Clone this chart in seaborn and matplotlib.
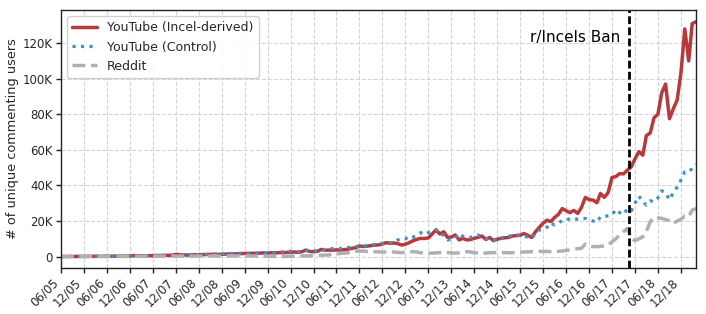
import numpy as np
import pandas as pd

import matplotlib
matplotlib.use("Agg")
import matplotlib.pyplot as plt
import matplotlib.ticker as mticker
import seaborn as sns

sns.set_theme(style="whitegrid")
plt.rcParams["font.family"] = ["DejaVu Sans"]
plt.rcParams["grid.linestyle"] = "--"
plt.rcParams["grid.color"] = "#d4d4d4"
plt.rcParams["grid.linewidth"] = 0.8
plt.rcParams["axes.edgecolor"] = "#222222"

# -- monthly unique commenting users, 06/2005 .. 04/2019 -- #
months = pd.date_range("2005-06-01", periods=167, freq="MS")

yt_incel = [
    80, 100, 110, 120, 130, 150,
    160, 170, 180, 200, 210, 220,
    230, 250, 260, 280, 300, 320,
    350, 600, 500, 450, 480, 520,
    550, 600, 650, 700, 720, 800,
    1300, 1100, 950, 900, 1000, 1050,
    1100, 1200, 1150, 1250, 1300, 1250,
    1350, 1400, 1500, 1450, 1600, 1700,
    1800, 1750, 1900, 1850, 2000, 2100,
    2000, 2200, 2100, 2300, 2200, 2400,
    2500, 2600, 2400, 2800, 3700, 2900,
    2800, 3000, 4100, 3600, 3700, 3600,
    3800, 3700, 3900, 4200, 4700, 5000,
    6000, 5700, 5900, 6200, 6500, 6600,
    7100, 7900, 7500, 7700, 7300, 6500,
    7000, 7900, 9000, 9700, 10300, 10200,
    10500, 12700, 15000, 12700, 14000, 10800,
    11000, 12200, 9400, 10300, 9400, 9600,
    10300, 10800, 11600, 9700, 10800, 9000,
    9800, 10300, 10600, 10800, 11600, 11800,
    12000, 13000, 12000, 10800, 14000, 16500,
    18800, 20500, 19700, 22000, 23800, 27000,
    25800, 24700, 26000, 24300, 27700, 33300,
    32000, 31800, 30300, 35500, 33300, 36000,
    44500, 45000, 46700, 46500, 48600, 50500,
    55000, 59000, 57000, 68000, 69500, 78000,
    80000, 92000, 97000, 77500, 83000, 88000,
    103000, 128000, 110000, 131000, 132000,
]

yt_control = [
    100, 120, 130, 140, 150, 160,
    170, 180, 200, 210, 220, 230,
    250, 260, 280, 300, 320, 340,
    380, 450, 500, 480, 520, 560,
    600, 650, 700, 750, 800, 850,
    1200, 1000, 950, 1000, 1050, 1100,
    1200, 1300, 1250, 1350, 1500, 1400,
    1600, 1500, 1700, 1800, 1700, 1900,
    2000, 1900, 2100, 2000, 2200, 2300,
    2200, 2400, 2300, 2500, 2700, 3700,
    2900, 2700, 2800, 3000, 3500, 3000,
    3200, 3400, 3600, 3500, 3900, 4600,
    4700, 4500, 4800, 5200, 5000, 5600,
    6000, 5800, 6200, 6500, 6800, 7200,
    7500, 7200, 7800, 8000, 9400, 10300,
    10000, 11600, 11000, 12000, 13500, 12500,
    13500, 14000, 15000, 14600, 11600, 9400,
    9800, 10300, 13000, 11500, 10800, 10800,
    11500, 12200, 11000, 10300, 9700, 9000,
    10800, 10500, 10300, 11200, 12200, 12000,
    12200, 11600, 11000, 10300, 13000, 15000,
    15300, 16500, 19000, 17800, 19000, 20200,
    20200, 21500, 21500, 21000, 21300, 21500,
    20600, 20000, 19400, 22400, 22400, 23000,
    23400, 26500, 24700, 23700, 27000, 25800,
    30000, 34000, 30800, 29000, 31400, 30800,
    33000, 37000, 35900, 32000, 35900, 39000,
    43000, 47700, 47700, 49500, 52000,
]

reddit = [
    0, 10, 20, 20, 30, 40,
    50, 60, 70, 80, 90, 100,
    110, 120, 130, 140, 150, 160,
    170, 180, 190, 200, 210, 220,
    230, 240, 250, 260, 270, 280,
    300, 310, 320, 330, 340, 350,
    360, 370, 380, 390, 400, 410,
    420, 440, 450, 470, 480, 500,
    450, 420, 400, 380, 350, 300,
    250, 200, 150, 100, 100, 150,
    200, 300, 350, 400, 450, 500,
    600, 700, 800, 900, 1000, 1300,
    1500, 1800, 2000, 2200, 2600, 3000,
    3200, 3100, 2900, 2800, 2800, 2700,
    2600, 2600, 2700, 2600, 2400, 2200,
    2400, 2600, 2800, 2600, 2200, 2000,
    1900, 2000, 2100, 2300, 2400, 2300,
    2100, 2000, 2100, 2300, 2800, 2600,
    2300, 2000, 1900, 2000, 2200, 2300,
    2200, 2200, 2300, 2200, 2200, 2400,
    2500, 2600, 2700, 2800, 3000, 3000,
    2900, 2900, 2800, 2800, 3000, 3200,
    3500, 3800, 4100, 4500, 4700, 7100,
    6000, 5600, 5600, 5800, 6000, 6500,
    8400, 10000, 12200, 14000, 15900, 10300,
    9000, 10000, 11200, 14000, 19600, 22000,
    21800, 21500, 20800, 20200, 18700, 20000,
    21000, 22800, 22500, 26200, 27000,
]

tick_dates = pd.date_range("2005-06-01", "2018-12-01", freq="6MS")
ban_date = pd.Timestamp("2017-10-15")

df = pd.DataFrame({"month": months, "incel": yt_incel,
                   "control": yt_control, "reddit": reddit})

fig = plt.figure(figsize=(7.06, 3.14), dpi=100)
ax = fig.add_axes([0.0864, 0.1475, 0.8996, 0.8206])

sns.lineplot(data=df, x="month", y="incel", ax=ax, color="#b8383c",
             linewidth=2.5, label="YouTube (Incel-derived)")
sns.lineplot(data=df, x="month", y="control", ax=ax, color="#3f8fc8",
             linewidth=2.3, linestyle=":", label="YouTube (Control)")
sns.lineplot(data=df, x="month", y="reddit", ax=ax, color="#b0b0b0",
             linewidth=2.5, linestyle="--", label="Reddit")

ax.axvline(ban_date, color="black", linewidth=2, dashes=(2.8, 1.2))
ax.text(ban_date - pd.Timedelta(days=70), 123000, "r/Incels Ban",
        ha="right", va="center", fontsize=11, color="black")

ax.set_xlim(months[0], months[-1])
ax.set_ylim(-6200, 138600)
ax.set_xticks(tick_dates)
ax.set_xticklabels([d.strftime("%m/%y") for d in tick_dates],
                   rotation=45, ha="right")
ax.set_yticks(np.arange(0, 120001, 20000))
ax.yaxis.set_major_formatter(mticker.FuncFormatter(
    lambda v, p: "0" if v == 0 else f"{int(v / 1000)}K"))
ax.tick_params(axis="both", labelsize=8.5, length=3.5, width=1,
               color="#222222", direction="out", bottom=True, left=True,
               pad=2.5)

ax.set_xlabel("")
ax.set_ylabel("# of unique commenting users", fontsize=9.3, labelpad=2.5)

for s in ax.spines.values():
    s.set_linewidth(1)
    s.set_color("#222222")

ax.legend(loc="upper left", fontsize=9, frameon=True, edgecolor="#cccccc",
          fancybox=True, framealpha=0.9)

fig.savefig("out.png", dpi=100)
plt.close()
